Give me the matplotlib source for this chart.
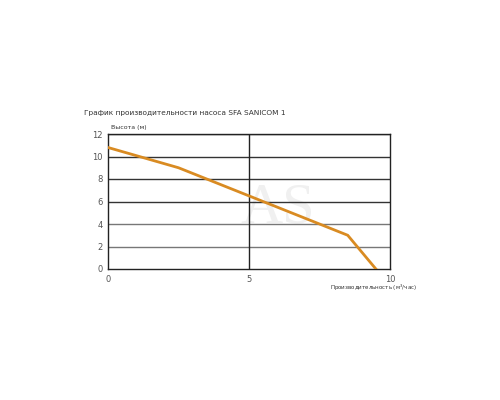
import matplotlib.pyplot as plt

# pump curve points
flow = [0, 2.5, 8.5, 9.5]
head = [10.8, 9.0, 3.0, 0.0]
yticks = [0, 2, 4, 6, 8, 10, 12]
xticks = [0, 5, 10]

fig = plt.figure(figsize=(5, 4), dpi=100)
ax = fig.add_axes([0.216, 0.3275, 0.564, 0.3375])

for y in yticks[1:]:
    col = "#333333" if y in (6, 8, 10, 12) else "#777777"
    ax.axhline(y, color=col, lw=1, zorder=1)
ax.axvline(5, color="#222222", lw=1, zorder=1)

ax.text(6.0, 5.4, "AS", fontsize=42, color="#f0f0f0", ha="center", va="center",
        family="Liberation Serif", zorder=0)

ax.plot(flow, head, color="#d98b22", lw=2.0, zorder=3, solid_joinstyle="miter")

ax.set_xlim(0, 10)
ax.set_ylim(0, 12)
ax.set_xticks(xticks)
ax.set_yticks(yticks)
ax.tick_params(length=0, labelsize=6, labelcolor="#555555", pad=4)
for s in ax.spines.values():
    s.set_color("#222222")
    s.set_linewidth(1)

fig.text(0.168, 0.717, "График производительности насоса SFA SANICOM 1",
         fontsize=5.3, color="#333333", va="center")
fig.text(0.222, 0.68, "Высота (м)", fontsize=4.5, color="#333333", va="center")
fig.text(0.66, 0.28, "Производительность (м$^3$/час)", fontsize=4.0,
         color="#333333", va="center")

fig.savefig("out.png", dpi=100)
